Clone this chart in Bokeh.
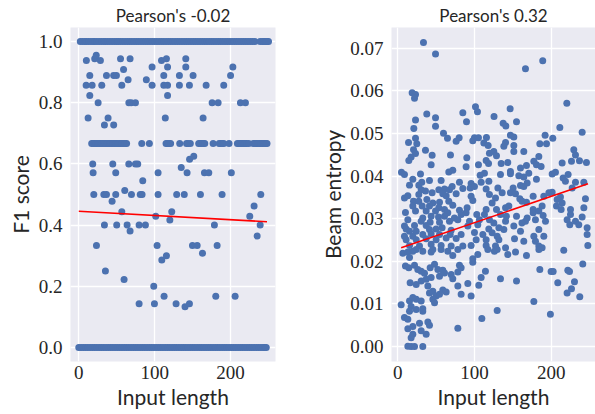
from bokeh.plotting import figure
from bokeh.layouts import row
from bokeh.models import FixedTicker, PrintfTickFormatter, Range1d
from bokeh.embed import file_html
from bokeh.resources import INLINE

# ---------------- texts and ticks ----------------
left_title = "Pearson's -0.02"
right_title = "Pearson's 0.32"
x_label = "Input length"
left_y_label = "F1 score"
right_y_label = "Beam entropy"
x_ticks = [0, 100, 200]
left_y_ticks = [0.0, 0.2, 0.4, 0.6, 0.8, 1.0]
right_y_ticks = [0.00, 0.01, 0.02, 0.03, 0.04, 0.05, 0.06, 0.07]

# ---------------- Left panel: F1 score vs input length ----------------
# F1 = 1.0 (dense row)
f1_len_one = [2, 5, 8, 10, 13, 16, 19, 21, 24, 27, 30, 33, 35, 38, 41, 44, 47, 50, 52, 55,
              58, 61, 64, 67, 70, 73, 76, 79, 82, 85, 88, 91, 94, 97, 100, 103, 106, 109,
              112, 115, 118, 121, 124, 127, 130, 133, 136, 139, 142, 145, 148, 151, 154,
              157, 160, 163, 166, 169, 172, 175, 178, 181, 184, 187, 190, 193, 196, 199,
              202, 205, 208, 211, 214, 217, 220, 223, 226, 229, 232, 239, 242, 244, 246,
              248, 250]
# F1 = 0.0 (dense row)
f1_len_zero = [0, 3, 6, 9, 12, 15, 18, 21, 24, 27, 30, 33, 36, 39, 42, 45, 48, 51, 54, 57,
               60, 63, 66, 69, 72, 75, 78, 81, 84, 87, 90, 93, 96, 99, 102, 105, 108, 111,
               114, 117, 120, 123, 126, 129, 132, 135, 138, 141, 144, 147, 150, 153, 156,
               159, 162, 165, 168, 171, 174, 177, 180, 183, 186, 189, 192, 195, 198, 201,
               204, 207, 210, 213, 216, 219, 222, 225, 228, 231, 234, 237, 240, 243, 245, 247]
# F1 = 2/3 row
f1_len_two_thirds = [17, 19, 21, 23, 25, 27, 29, 31, 33, 35, 37, 39, 41, 43, 45, 47, 49, 51,
                     53, 55, 57, 59, 61, 63, 83, 93, 115, 117, 119, 121, 133, 142, 144, 147,
                     158, 160, 162, 164, 166, 177, 185, 187, 189, 191, 198, 209, 211, 213,
                     215, 217, 219, 221, 224, 230, 232, 234, 236, 238, 240, 242, 244, 246, 248]
# other F1 values
f1_len_mid = [10, 21, 23, 28.5, 55, 67.6, 59, 96.6, 109, 115.5, 117, 141, 141, 203,
              14.5, 36.5, 46, 49.6, 65, 89, 112, 132.6, 150.6, 200,
              9.7, 17.6, 30.3, 56.7, 96.6, 112, 117, 132.6, 145.8, 167.8, 191,
              14.5, 117,
              25.5, 66, 69, 74.7, 175.7, 183.6, 213, 219.6,
              12.3, 38.6, 114, 163.8, 33.8, 46, 146, 151.5,
              18.4, 44.8, 65.9, 74.7, 77.7,
              18.9, 48.7, 104.5, 142.7, 165.6, 171.3, 201, 135, 84.3,
              19.8, 33, 36.5, 48.7, 69.4, 81, 83.4, 104.5, 129, 139, 160.3, 188.8, 239.8,
              60.6, 43.9, 56.7, 231, 225.3, 101.4, 122.5, 120,
              33.8, 50, 63.7, 79.5, 87.8, 178.7, 239, 67.6, 235,
              23.3, 103.2, 149.8, 156, 182.3, 163, 115.5, 109.4, 35.1, 59.7,
              98.8, 79.5, 99.7, 112.4, 128.2, 140, 145.8, 180.5, 206]
f1_mid = [0.938, 0.944, 0.955, 0.938, 0.944, 0.944, 0.909, 0.917, 0.938, 0.944, 0.917, 0.944, 0.917, 0.917,
          0.889, 0.889, 0.889, 0.889, 0.875, 0.875, 0.889, 0.889, 0.889, 0.889,
          0.857, 0.857, 0.857, 0.857, 0.857, 0.857, 0.857, 0.857, 0.857, 0.857, 0.857,
          0.824, 0.824,
          0.8, 0.8, 0.8, 0.8, 0.8, 0.8, 0.8, 0.8,
          0.75, 0.75, 0.75, 0.75, 0.727, 0.727, 0.615, 0.625,
          0.6, 0.6, 0.6, 0.6, 0.6,
          0.571, 0.571, 0.571, 0.571, 0.571, 0.571, 0.571, 0.588, 0.545,
          0.5, 0.5, 0.5, 0.5, 0.5, 0.5, 0.5, 0.5, 0.5, 0.5, 0.5, 0.5, 0.5,
          0.513, 0.478, 0.444, 0.462, 0.429, 0.429, 0.444, 0.417,
          0.4, 0.4, 0.4, 0.4, 0.4, 0.4, 0.4, 0.381, 0.364,
          0.333, 0.333, 0.333, 0.333, 0.333, 0.308, 0.3, 0.286, 0.25, 0.222,
          0.2, 0.143, 0.143, 0.167, 0.143, 0.133, 0.143, 0.167, 0.167]
# regression line (left)
f1_fit_len = [0, 248]
f1_fit = [0.445, 0.411]

# ---------------- Right panel: beam entropy vs input length ----------------
beam_len_a = [33.5, 49.2, 18.7, 23.1, 21.8, 23.1, 37.8, 49.2, 49.2, 20.9, 23.1, 59.6, 64.8,
              80.0, 84.8, 89.6, 101.3, 103.9, 100.0, 105.2, 115.6]
beam_ent_a = [0.0714, 0.0687, 0.0596, 0.0592, 0.0583, 0.0532, 0.0546, 0.0537, 0.0517, 0.0512,
              0.0489, 0.0501, 0.0489, 0.0490, 0.0549, 0.0528, 0.0563, 0.0551, 0.0490, 0.0490, 0.0491]

beam_len_b = [189.0, 166.5, 220.4, 125.5, 146.5, 137.4, 140.9, 154.8, 211.3, 240.4, 146.9,
              151.3, 192.1, 202.1]
beam_ent_b = [0.0671, 0.0652, 0.0571, 0.0540, 0.0558, 0.0524, 0.0518, 0.0528, 0.0514, 0.0503,
              0.0496, 0.0492, 0.0496, 0.0489]

beam_len_c = [14.0, 24.8, 76.1, 97.8, 112.2, 117.8,
              20.5, 23.1, 36.1, 44.8, 17.4, 14.4, 68.7, 90.0, 119.5, 115.2,
              43.5, 89.1, 105.2, 118.3, 66.5, 71.7, 4.8, 8.7, 29.6, 113.0,
              19.6, 31.3, 41.3, 27.4, 56.5, 80.4, 107.4, 108.7, 95.6, 118.7, 15.3,
              30.5, 36.1, 53.5, 60.9, 67.4, 70.9, 84.8, 94.4, 100.0,
              8.7, 13.1, 27.4, 44.8, 58.7, 63.1, 76.1, 95.6, 97.8, 115.2, 119.5,
              20.5, 27.4, 37.9, 45.7, 54.4, 66.5,
              19.6, 31.8, 41.3, 53.5, 60.9, 71.7, 80.4, 90.4,
              10.0, 23.1, 37.0, 49.2, 65.2, 89.1, 103.0, 115.2, 113.0,
              32.6, 43.5, 53.1, 60.9, 73.9, 82.6,
              13.1, 30.5, 42.2, 54.4, 67.4, 78.3, 93.5, 106.5, 119.5,
              8.7, 21.8, 37.0, 57.8, 91.3, 104.3,
              10.9, 15.3, 24.0, 41.3, 50.0, 69.6, 100.0, 118.7,
              8.7, 19.6, 32.6, 43.5, 54.4, 68.3, 82.6, 110.9,
              10.9, 24.0, 37.0, 50.0, 63.1, 76.1, 102.2, 115.2,
              15.3, 28.3, 43.5, 56.5, 69.6, 84.8, 95.6, 115.2]
beam_ent_c = [0.0479, 0.0476, 0.0482, 0.0483, 0.0478, 0.0472,
              0.0462, 0.0453, 0.0461, 0.0449, 0.0445, 0.0437, 0.0450, 0.0443, 0.0454, 0.0437,
              0.0427, 0.0422, 0.0427, 0.0430, 0.0410, 0.0414, 0.0409, 0.0404, 0.0405, 0.0407,
              0.0393, 0.0386, 0.0390, 0.0379, 0.0390, 0.0386, 0.0402, 0.0386, 0.0383, 0.0388, 0.0379,
              0.0368, 0.0365, 0.0368, 0.0370, 0.0368, 0.0376, 0.0371, 0.0372, 0.0376,
              0.0349, 0.0354, 0.0357, 0.0361, 0.0359, 0.0354, 0.0359, 0.0353, 0.0343, 0.0370, 0.0357,
              0.0341, 0.0341, 0.0345, 0.0337, 0.0339, 0.0341,
              0.0330, 0.0330, 0.0330, 0.0326, 0.0322, 0.0332, 0.0320, 0.0326,
              0.0315, 0.0318, 0.0318, 0.0318, 0.0314, 0.0314, 0.0310, 0.0322, 0.0310,
              0.0302, 0.0306, 0.0304, 0.0306, 0.0302, 0.0310,
              0.0298, 0.0294, 0.0292, 0.0292, 0.0294, 0.0298, 0.0294, 0.0298, 0.0298,
              0.0283, 0.0284, 0.0284, 0.0279, 0.0283, 0.0286,
              0.0276, 0.0271, 0.0271, 0.0275, 0.0276, 0.0273, 0.0268, 0.0276,
              0.0259, 0.0259, 0.0263, 0.0265, 0.0263, 0.0263, 0.0263, 0.0263,
              0.0251, 0.0251, 0.0253, 0.0251, 0.0255, 0.0254, 0.0251, 0.0251,
              0.0237, 0.0236, 0.0240, 0.0237, 0.0236, 0.0236, 0.0237, 0.0237]

beam_len_d = [140.5, 138.3, 151.3, 151.3, 164.3, 185.2, 193.9,
              125.2, 128.7, 143.4, 134.8, 177.4, 180.8, 186.9, 183.9, 229.5, 231.7,
              226.5, 236.9, 246.0, 214.3, 167.8, 160.0, 146.9, 146.9, 133.9, 157.8,
              170.8, 180.8, 164.3, 168.7, 201.3, 205.6, 222.1, 215.6, 218.6, 231.7,
              242.6, 227.4, 130.5, 150.4, 160.0, 164.3, 146.9, 153.5, 127.4, 123.0,
              136.1, 159.1, 161.9, 167.8, 176.5, 190.4, 197.0, 201.3, 212.1, 207.8,
              214.3, 206.9, 213.0, 225.2, 244.7, 242.6, 128.7, 140.5, 144.8, 176.5,
              188.2, 133.9, 141.7, 154.8, 176.5, 183.9, 189.5, 192.6, 166.5, 168.7,
              161.9, 179.5, 225.2, 220.8, 224.3, 231.7, 236.0, 240.4, 246.9, 125.2,
              140.5, 151.3, 138.3, 131.8, 123.0, 129.6, 131.8, 160.0, 183.9, 190.4,
              177.4, 179.5, 164.3, 152.2, 183.9, 188.2, 246.9, 247.8, 127.4, 140.5]
beam_ent_d = [0.0479, 0.0470, 0.0472, 0.0458, 0.0458, 0.0476, 0.0476,
              0.0458, 0.0448, 0.0432, 0.0430, 0.0435, 0.0427, 0.0423, 0.0446, 0.0462, 0.0450,
              0.0435, 0.0436, 0.0432, 0.0431, 0.0425, 0.0419, 0.0411, 0.0406, 0.0404, 0.0401,
              0.0407, 0.0393, 0.0398, 0.0384, 0.0405, 0.0409, 0.0404, 0.0396, 0.0388, 0.0386,
              0.0386, 0.0372, 0.0372, 0.0372, 0.0378, 0.0376, 0.0361, 0.0359, 0.0349, 0.0337,
              0.0361, 0.0347, 0.0341, 0.0339, 0.0353, 0.0353, 0.0361, 0.0362, 0.0351, 0.0345,
              0.0337, 0.0330, 0.0322, 0.0322, 0.0347, 0.0326, 0.0322, 0.0326, 0.0330, 0.0322,
              0.0330, 0.0310, 0.0306, 0.0306, 0.0314, 0.0318, 0.0308, 0.0294, 0.0294, 0.0302,
              0.0290, 0.0298, 0.0310, 0.0298, 0.0286, 0.0294, 0.0286, 0.0304, 0.0279, 0.0290,
              0.0294, 0.0283, 0.0275, 0.0279, 0.0267, 0.0259, 0.0251, 0.0271, 0.0275, 0.0259,
              0.0259, 0.0247, 0.0247, 0.0253, 0.0236, 0.0232, 0.0263, 0.0237, 0.0236, 0.0232]

beam_len_e = [6.6, 13.1, 19.6, 24.0, 32.6, 43.5, 45.7, 56.5, 65.2, 71.7,
              78.3, 97.8, 104.3, 117.4, 15.3, 10.0, 14.4, 21.8, 26.1, 30.5,
              34.8, 42.2, 47.9, 52.2, 58.7, 54.4, 60.9, 69.6, 80.4, 78.3,
              71.7, 82.6, 97.8, 114.3, 108.7, 105.6, 16.1, 24.0, 30.5, 37.0,
              43.5, 39.2, 41.3, 45.7, 50.0, 45.7, 58.7, 63.1, 78.3, 82.6,
              91.3, 95.6, 24.0, 30.5, 15.3, 19.6, 54.4, 47.9, 4.4, 17.4,
              24.0, 32.6, 15.3, 8.7, 32.6, 13.1, 19.6, 13.1, 28.3, 39.2,
              41.3, 19.6, 17.4, 30.5, 37.0, 78.3, 109.6, 13.1, 17.4, 21.8, 32.6]
beam_ent_e = [0.0219, 0.0222, 0.0224, 0.0228, 0.0224, 0.0222, 0.0228, 0.0228, 0.0224, 0.0214,
              0.0228, 0.0206, 0.0216, 0.0228, 0.0209, 0.0189, 0.0185, 0.0191, 0.0181, 0.0177,
              0.0172, 0.0185, 0.0193, 0.0181, 0.0179, 0.0165, 0.0173, 0.0169, 0.0191, 0.0175,
              0.0159, 0.0185, 0.0198, 0.0177, 0.0162, 0.0144, 0.0150, 0.0146, 0.0154, 0.0158,
              0.0162, 0.0142, 0.0126, 0.0130, 0.0119, 0.0111, 0.0133, 0.0128, 0.0142, 0.0123,
              0.0148, 0.0119, 0.0111, 0.0107, 0.0107, 0.0115, 0.0123, 0.0103, 0.0098, 0.0094,
              0.0087, 0.0083, 0.0083, 0.0068, 0.0089, 0.0064, 0.0047, 0.0042, 0.0055, 0.0058,
              0.0050, 0.0029, 0.0021, 0.0037, 0.0029, 0.0043, 0.0066, 0.0001, 0.0, 0.0, 0.0]

beam_len_f = [126.0, 129.6, 143.4, 153.5, 167.8, 184.0, 216.4, 185.2, 199.9, 202.6, 221.7,
              223.9, 241.2, 133.9, 154.8, 208.6, 230.4, 226.5, 220.8, 237.3, 177.4, 129.6, 199.0]
beam_ent_f = [0.0224, 0.0228, 0.0216, 0.0222, 0.0214, 0.0228, 0.0226, 0.0181, 0.0176, 0.0176,
              0.0179, 0.0176, 0.0194, 0.0159, 0.0154, 0.0150, 0.0152, 0.0136, 0.0126, 0.0117,
              0.0106, 0.0085, 0.0076]

# regression line (right)
beam_fit_len = [4.4, 248]
beam_fit = [0.0232, 0.0382]

# ---------------- styling ----------------
BG = "#EAEAF2"
DOT = "#4C72B0"
TXT = "#262626"
DOT_SIZE = 7


def pairs(xs, ys):
    n = min(len(xs), len(ys))
    return list(xs[:n]), list(ys[:n])


def style(p, yticks, yfmt, ylab_standoff):
    p.background_fill_color = BG
    p.border_fill_color = "white"
    p.outline_line_color = None
    p.grid.grid_line_color = "white"
    p.grid.grid_line_width = 1.3
    p.xaxis.ticker = FixedTicker(ticks=x_ticks)
    p.yaxis.ticker = FixedTicker(ticks=yticks)
    p.yaxis.formatter = PrintfTickFormatter(format=yfmt)
    p.xgrid.ticker = FixedTicker(ticks=x_ticks)
    p.ygrid.ticker = FixedTicker(ticks=yticks)
    for ax in (p.xaxis[0], p.yaxis[0]):
        ax.axis_line_color = None
        ax.major_tick_line_color = None
        ax.minor_tick_line_color = None
        ax.major_tick_out = 0
        ax.major_tick_in = 0
        ax.minor_tick_out = 0
        ax.minor_tick_in = 0
        ax.major_label_text_font = "Liberation Serif"
        ax.major_label_text_font_size = "19px"
        ax.major_label_text_color = TXT
        ax.axis_label_text_font = "Lato"
        ax.axis_label_text_font_size = "21px"
        ax.axis_label_text_font_style = "normal"
        ax.axis_label_text_color = TXT
    p.yaxis[0].major_label_standoff = 8
    p.yaxis[0].axis_label_standoff = ylab_standoff
    p.xaxis[0].major_label_standoff = 4
    p.xaxis[0].axis_label_standoff = 2
    p.title.text_font = "Lato"
    p.title.text_font_size = "17px"
    p.title.text_font_style = "normal"
    p.title.text_color = TXT
    p.title.align = "center"
    p.title.standoff = 4


FH = 334

p1 = figure(frame_width=205, frame_height=FH, output_backend="svg", toolbar_location=None,
            x_range=Range1d(-10.9, 259.2), y_range=Range1d(-0.046, 1.046),
            min_border_left=70, min_border_right=25, min_border_top=26, min_border_bottom=54,
            title=left_title, x_axis_label=x_label, y_axis_label=left_y_label)
style(p1, left_y_ticks, "%.1f", 3)

p1.scatter(f1_len_one, [1.0] * len(f1_len_one), size=DOT_SIZE, color=DOT, line_color=None)
p1.scatter(f1_len_zero, [0.0] * len(f1_len_zero), size=DOT_SIZE, color=DOT, line_color=None)
p1.scatter(f1_len_two_thirds, [0.667] * len(f1_len_two_thirds), size=DOT_SIZE, color=DOT, line_color=None)
mx, my = pairs(f1_len_mid, f1_mid)
p1.scatter(mx, my, size=DOT_SIZE, color=DOT, line_color=None)
p1.line(f1_fit_len, f1_fit, line_color="red", line_width=1.6)

p2 = figure(frame_width=204, frame_height=FH, output_backend="svg", toolbar_location=None,
            x_range=Range1d(-8.2, 257.8), y_range=Range1d(-0.0035, 0.0749),
            min_border_left=91, min_border_right=0, min_border_top=26, min_border_bottom=54,
            title=right_title, x_axis_label=x_label, y_axis_label=right_y_label)
style(p2, right_y_ticks, "%.2f", 2)

for xs, ys in [(beam_len_a, beam_ent_a), (beam_len_b, beam_ent_b), (beam_len_c, beam_ent_c),
               (beam_len_d, beam_ent_d), (beam_len_e, beam_ent_e), (beam_len_f, beam_ent_f)]:
    bx, by = pairs(xs, ys)
    p2.scatter(bx, by, size=DOT_SIZE, color=DOT, line_color=None)
p2.line(beam_fit_len, beam_fit, line_color="red", line_width=1.6)

layout = row(p1, p2)
open("out.html", "w").write(file_html(layout, INLINE))
